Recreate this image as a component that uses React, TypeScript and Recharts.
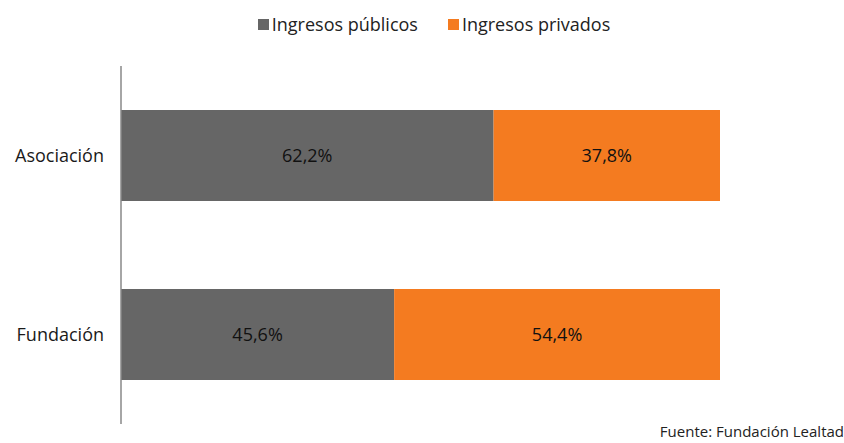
import React from "react";
import { Bar, BarChart, LabelList, XAxis, YAxis } from "recharts";

const categories = ["Asociación", "Fundación"];
const publicos = [62.2, 45.6];
const privados = [37.8, 54.4];
const seriesNames = ["Ingresos públicos", "Ingresos privados"];
const seriesColors = ["#666666", "#F47B20"];

const data = categories.map((name, i) => ({
  name,
  publicos: publicos[i],
  privados: privados[i],
}));

const fmt = (v: any) => `${Number(v).toFixed(1).replace(".", ",")}%`;

const App: React.FC = () => {
  return (
    <div
      style={{
        position: "absolute",
        left: 0,
        top: 0,
        width: 844,
        height: 443,
        overflow: "hidden",
        background: "#fff",
        fontFamily: "'Open Sans', sans-serif",
      }}
    >
      {/* legend */}
      <div
        style={{
          position: "absolute",
          top: 11,
          left: 0,
          width: 844,
          display: "flex",
          justifyContent: "center",
          paddingLeft: 24,
          boxSizing: "border-box",
          fontSize: 18,
          color: "#222",
          lineHeight: "26px",
        }}
      >
        {seriesNames.map((n, i) => (
          <span
            key={n}
            style={{
              display: "inline-flex",
              alignItems: "center",
              marginRight: i === 0 ? 30 : 0,
            }}
          >
            <span
              style={{
                width: 11,
                height: 11,
                background: seriesColors[i],
                marginRight: 3,
                display: "inline-block",
              }}
            />
            {n}
          </span>
        ))}
      </div>
      <BarChart
        width={844}
        height={443}
        data={data}
        layout="vertical"
        barSize={91}
        margin={{ top: 66, right: 124, left: 0, bottom: 19 }}
      >
        <XAxis type="number" domain={[0, 100]} hide />
        <YAxis
          type="category"
          dataKey="name"
          width={121}
          tickLine={false}
          tickSize={0}
          tickMargin={17}
          axisLine={{ stroke: "#888888", strokeWidth: 1.5 }}
          tick={{ fill: "#1a1a1a", fontSize: 18 }}
        />
        <Bar
          dataKey="publicos"
          name={seriesNames[0]}
          stackId="a"
          fill={seriesColors[0]}
          isAnimationActive={false}
        >
          <LabelList
            dataKey="publicos"
            position="center"
            formatter={fmt}
            style={{ fill: "#111", fontSize: 18 }}
          />
        </Bar>
        <Bar
          dataKey="privados"
          name={seriesNames[1]}
          stackId="a"
          fill={seriesColors[1]}
          isAnimationActive={false}
        >
          <LabelList
            dataKey="privados"
            position="center"
            formatter={fmt}
            style={{ fill: "#111", fontSize: 18 }}
          />
        </Bar>
      </BarChart>
      <div
        style={{
          position: "absolute",
          right: 0,
          top: 422,
          fontSize: 15,
          lineHeight: "18px",
          color: "#222",
          whiteSpace: "nowrap",
        }}
      >
        Fuente: Fundación Lealtad
      </div>
    </div>
  );
};

export default App;
